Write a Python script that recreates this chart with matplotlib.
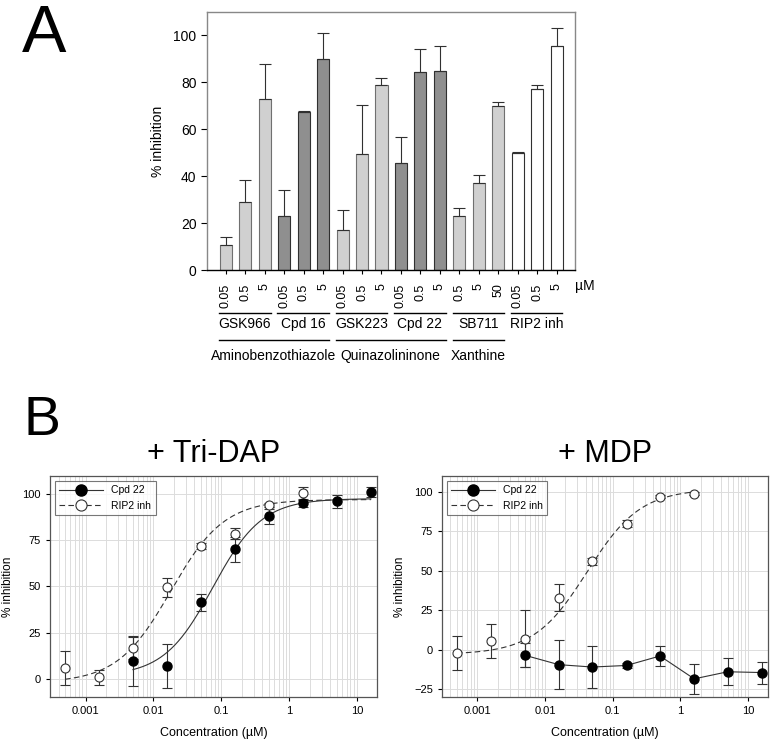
import numpy as np
import matplotlib
matplotlib.use("Agg")
from matplotlib import pyplot as plt
from matplotlib import transforms, ticker

plt.rcParams['font.family'] = ['Liberation Sans', 'DejaVu Sans']

# ---- panel A data
conc_labels = ["0.05", "0.5", "5", "0.05", "0.5", "5", "0.05", "0.5", "5",
               "0.05", "0.5", "5", "0.5", "5", "50", "0.05", "0.5", "5"]
inhibition = [10.5, 29, 73, 23, 67.5, 90, 17, 49.5, 79, 45.5, 84.5, 85,
              23, 37, 70, 50, 77, 95.5]
inhibition_err = [3.5, 9.5, 15, 11, 0.3, 11, 8.5, 21, 3, 11, 9.5, 10.5,
                  3.5, 3.5, 1.5, 0.3, 2, 7.5]
compounds = ["GSK966", "Cpd 16", "GSK223", "Cpd 22", "SB711", "RIP2 inh"]
compound_colors = ["#d0d0d0", "#8f8f8f", "#d0d0d0", "#8f8f8f", "#d0d0d0", "#ffffff"]
compound_edges = ["#707070", "#303030", "#707070", "#303030", "#707070", "#303030"]
classes = ["Aminobenzothiazole", "Quinazolininone", "Xanthine"]
class_span = [(0, 1), (2, 3), (4, 4)]  # compound index ranges

# ---- panel B data
conc = [0.0005, 0.0016, 0.005, 0.016, 0.05, 0.16, 0.5, 1.6, 5, 16]
tri_cpd22 = [None, None, 9.5, 7, 41.5, 70, 88, 95, 96, 101]
tri_cpd22_err = [None, None, 13, 12, 4.5, 7, 4, 2, 3.5, 2.5]
tri_rip2 = [6, 1, 17, 49.5, 72, 78.5, 94, 100.5, None, None]
tri_rip2_err = [9, 4, 6, 5, 1.5, 3, 1, 3, None, None]
mdp_cpd22 = [None, None, -3.5, -9.5, -11, -10, -4, -18.5, -14, -14.5]
mdp_cpd22_err = [None, None, 7.5, 15.5, 13.5, 1.5, 6.5, 9.5, 8.5, 7]
mdp_rip2 = [-2, 5.5, 7, 33, 56, 80, 97, 99, None, None]
mdp_rip2_err = [11, 10.5, 18, 8.5, 2, 2, 1, 1, None, None]

# 4-parameter logistic fits (bottom, top, IC50, hill), plotted up to fit_end
tri_cpd22_fit = (1.5, 97.5, 0.075, 1.2)
tri_rip2_fit = (-2, 97, 0.018, 1.1)
mdp_rip2_fit = (-3, 102, 0.042, 1.1)
tri_rip2_fit_end = 16
mdp_rip2_fit_end = 1.6


def logistic(x, bottom, top, ic50, hill):
    return bottom + (top - bottom) / (1 + (ic50 / x) ** hill)


fig = plt.figure(figsize=(7.72, 7.44), dpi=100)

# ================= panel A
ax = fig.add_axes([0.268, 0.637, 0.477, 0.347])
n_per = 3
pos = np.arange(len(inhibition))
for i, name in enumerate(compounds):
    sl = slice(i * n_per, (i + 1) * n_per)
    ax.bar(pos[sl], inhibition[sl], width=0.62, color=compound_colors[i],
           edgecolor=compound_edges[i], linewidth=0.8, zorder=2)
    ax.errorbar(pos[sl], inhibition[sl], yerr=[np.zeros(n_per), inhibition_err[sl]],
                fmt="none", ecolor="#303030", elinewidth=0.8, capsize=4,
                capthick=0.8, zorder=3)
ax.set_xlim(-0.97, 17.95)
ax.set_ylim(0, 110)
ax.set_yticks(range(0, 101, 20))
ax.set_xticks(pos)
ax.set_xticklabels(conc_labels, rotation=90, va="top", ha="center")
ax.tick_params(axis="x", length=3, pad=6.5, labelsize=9, direction="out")
ax.tick_params(axis="y", length=4, labelsize=10, direction="out")
ax.set_ylabel("% inhibition", fontsize=10, labelpad=6)
for s in ["top", "right", "left"]:
    ax.spines[s].set_color("#888888")
ax.spines["bottom"].set_color("black")
for s in ax.spines.values():
    s.set_linewidth(1.0)

tr = transforms.blended_transform_factory(ax.transData, ax.transAxes)
ax.text(18.45, -0.062, "\u00b5M", transform=tr, ha="center", va="center", fontsize=10)
for i, name in enumerate(compounds):
    x0, x1 = pos[i * n_per] - 0.35, pos[i * n_per + 2] + 0.3
    ax.plot([x0, x1], [-0.167, -0.167], transform=tr, color="black", lw=1.0, clip_on=False)
    ax.text((x0 + x1) / 2, -0.209, name, transform=tr, ha="center", va="center", fontsize=10)
for name, (a, b) in zip(classes, class_span):
    x0, x1 = pos[a * n_per] - 0.35, pos[b * n_per + 2] + 0.3
    ax.plot([x0, x1], [-0.271, -0.271], transform=tr, color="black", lw=1.0, clip_on=False)
    ax.text((x0 + x1) / 2, -0.333, name, transform=tr, ha="center", va="center", fontsize=10)

fig.text(22 / 772, 1 - 52 / 744, "A", fontsize=48, ha="left", va="baseline")
fig.text(24 / 772, 1 - 435 / 744, "B", fontsize=40, ha="left", va="baseline")


# ================= panel B
def series(vals, errs):
    x = [c for c, v in zip(conc, vals) if v is not None]
    y = [v for v in vals if v is not None]
    e = [v for v in errs if v is not None]
    return np.array(x), np.array(y), np.array(e)


def dose_panel(rect, title, ylim, yticks, cpd_vals, cpd_errs, rip_vals, rip_errs,
               cpd_fit, rip_fit, rip_end):
    bx = fig.add_axes(rect)
    bx.set_xscale("log")
    bx.set_xlim(3e-4, 19.7)
    bx.set_ylim(*ylim)
    bx.set_yticks(yticks)
    bx.xaxis.set_major_locator(ticker.FixedLocator([0.001, 0.01, 0.1, 1, 10]))
    bx.xaxis.set_major_formatter(ticker.FixedFormatter(["0.001", "0.01", "0.1", "1", "10"]))
    bx.xaxis.set_minor_locator(ticker.LogLocator(base=10, subs=np.arange(2, 10)))
    bx.xaxis.set_minor_formatter(ticker.NullFormatter())
    bx.grid(True, which="both", axis="x", color="#dcdcdc", lw=0.7)
    bx.grid(True, which="major", axis="y", color="#dcdcdc", lw=0.7)
    bx.set_axisbelow(True)
    bx.tick_params(which="major", length=3, labelsize=8, direction="out")
    bx.tick_params(which="minor", length=0)
    for s in bx.spines.values():
        s.set_color("#555555")
        s.set_linewidth(0.9)
    bx.set_xlabel("Concentration (\u00b5M)", fontsize=9, labelpad=8)
    bx.set_ylabel("% inhibition", fontsize=8.5, labelpad=6)
    bx.set_title(title, fontsize=22, pad=10)

    cx, cy, ce = series(cpd_vals, cpd_errs)
    rx, ry, re_ = series(rip_vals, rip_errs)
    bx.errorbar(cx, cy, yerr=ce, fmt="none", ecolor="#333333", elinewidth=0.8,
                capsize=3.5, capthick=0.8, zorder=3)
    bx.errorbar(rx, ry, yerr=re_, fmt="none", ecolor="#333333", elinewidth=0.8,
                capsize=3.5, capthick=0.8, zorder=3)

    if cpd_fit is not None:
        xs = np.logspace(np.log10(cx[0]), np.log10(cx[-1]), 200)
        bx.plot(xs, logistic(xs, *cpd_fit), color="#333333", lw=0.8, zorder=2)
    else:
        bx.plot(cx, cy, color="#333333", lw=0.8, zorder=2)
    xs = np.logspace(np.log10(rx[0]), np.log10(rip_end), 200)
    bx.plot(xs, logistic(xs, *rip_fit), color="#333333", lw=0.8, ls=(0, (5, 3)), zorder=2)

    bx.plot(cx, cy, "o", ms=6.5, mfc="black", mec="black", zorder=4)
    bx.plot(rx, ry, "o", ms=6.5, mfc="white", mec="#333333", mew=0.8, zorder=4)

    h1, = bx.plot([], [], "-o", color="#333333", lw=0.8, ms=8, mfc="black", mec="black")
    h2, = bx.plot([], [], "--o", color="#333333", lw=0.8, ms=8, mfc="white",
                  mec="#333333", mew=0.8, dashes=(5, 3))
    leg = bx.legend([h1, h2], ["Cpd 22", "RIP2 inh"], loc="upper left", fontsize=7.5,
                    handlelength=4.2, frameon=True, fancybox=False, borderpad=0.4,
                    labelspacing=0.5, borderaxespad=0.5, handletextpad=0.8)
    leg.get_frame().set_edgecolor("#555555")
    leg.get_frame().set_linewidth(0.8)
    return bx


dose_panel([0.0648, 0.0632, 0.4236, 0.297], "+ Tri-DAP", (-9.7, 109.7),
           [0, 25, 50, 75, 100], tri_cpd22, tri_cpd22_err, tri_rip2, tri_rip2_err,
           tri_cpd22_fit, tri_rip2_fit, tri_rip2_fit_end)
dose_panel([0.5725, 0.0632, 0.4223, 0.297], "+ MDP", (-30, 110.2),
           [-25, 0, 25, 50, 75, 100], mdp_cpd22, mdp_cpd22_err, mdp_rip2, mdp_rip2_err,
           None, mdp_rip2_fit, mdp_rip2_fit_end)

fig.savefig("out.png", dpi=100)
